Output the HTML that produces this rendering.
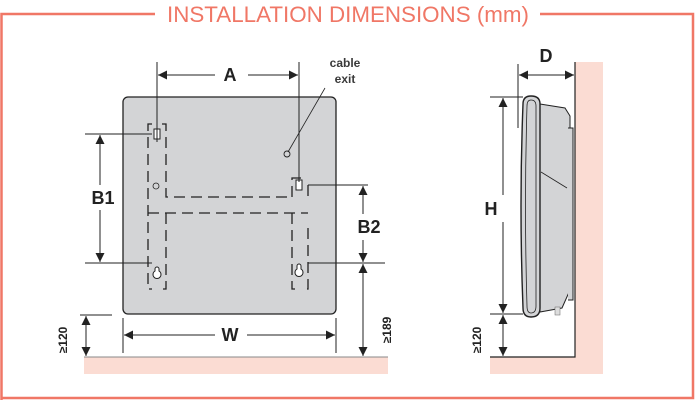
<!DOCTYPE html>
<html><head><meta charset="utf-8"><style>
html,body{margin:0;padding:0;background:#fff;}
svg{display:block;}
text{font-family:"Liberation Sans",sans-serif;font-weight:bold;fill:#222;}
</style></head><body>
<svg width="695" height="400" viewBox="0 0 695 400" xmlns="http://www.w3.org/2000/svg">
<defs>
<marker id="ar" viewBox="0 0 10 10" refX="10" refY="5" markerWidth="9" markerHeight="9" markerUnits="userSpaceOnUse" orient="auto-start-reverse"><path d="M0,0 L10,5 L0,10 z" fill="#222"/></marker>
</defs>
<path d="M1.5,400 V14 H155 M540,14 H693 V398 H1.5" fill="none" stroke="#f07766" stroke-width="2.5"/>
<text x="348" y="22" text-anchor="middle" textLength="362" lengthAdjust="spacingAndGlyphs" style="font-weight:normal;fill:#f07766;font-size:22px;">INSTALLATION DIMENSIONS (mm)</text>

<rect x="84" y="357" width="304" height="17" fill="#fbdcd3"/>
<line x1="84" y1="357" x2="388" y2="357" stroke="#888" stroke-width="1"/>
<rect x="575" y="62" width="28" height="312" fill="#fbdcd3"/>
<rect x="490" y="357" width="113" height="17" fill="#fbdcd3"/>
<path d="M575,62 V357 H490" fill="none" stroke="#222" stroke-width="1.2"/>

<rect x="123" y="97" width="213" height="217" rx="5" fill="#d3d4d6" stroke="#222" stroke-width="1.3"/>
<g fill="none" stroke="#222" stroke-width="1.3" stroke-dasharray="11,6">
<path d="M152,124 H148 V289 H152"/>
<path d="M162,124 H166 V197 H292"/>
<path d="M148,213 H308"/>
<path d="M166,213 V289 H162"/>
<path d="M292,213 V289 H296"/>
<path d="M308,228 V289 H304"/>
<path d="M292,197 V178 H304"/>
<path d="M308,185 V197"/>
</g>
<rect x="154" y="129" width="6" height="10" fill="#fff" stroke="#222" stroke-width="1"/>
<rect x="296" y="180" width="6" height="10" fill="#fff" stroke="#222" stroke-width="1"/>
<circle cx="156" cy="186" r="3" fill="none" stroke="#222" stroke-width="0.8"/>
<g fill="#fff" stroke="#222" stroke-width="1">
<path d="M155,269 a2,2 0 0 1 4,0 v2 a4,4 0 1 1 -4,0 z"/>
<path d="M297,266 a2,2 0 0 1 4,0 v3 a4,4 0 1 1 -4,0 z"/>
</g>
<circle cx="287" cy="154" r="3" fill="none" stroke="#222" stroke-width="0.9"/>
<line x1="325" y1="88" x2="288" y2="152" stroke="#222" stroke-width="0.8"/>

<g stroke="#222" stroke-width="1">
<line x1="157" y1="62" x2="157" y2="142"/>
<line x1="299" y1="62" x2="299" y2="182"/>
<line x1="158" y1="75" x2="215" y2="75" marker-start="url(#ar)"/>
<line x1="248" y1="75" x2="298" y2="75" marker-end="url(#ar)"/>
<line x1="85" y1="134" x2="152" y2="134"/>
<line x1="85" y1="263" x2="152" y2="263"/>
<line x1="100" y1="135" x2="100" y2="185" marker-start="url(#ar)"/>
<line x1="100" y1="210" x2="100" y2="262" marker-end="url(#ar)"/>
<line x1="308" y1="185" x2="368" y2="185"/>
<line x1="308" y1="263" x2="385" y2="263"/>
<line x1="363" y1="186" x2="363" y2="214" marker-start="url(#ar)"/>
<line x1="363" y1="240" x2="363" y2="262" marker-end="url(#ar)"/>
<line x1="363" y1="264" x2="363" y2="356" marker-start="url(#ar)" marker-end="url(#ar)"/>
<line x1="123" y1="318" x2="123" y2="353"/>
<line x1="336" y1="318" x2="336" y2="353"/>
<line x1="124" y1="335" x2="215" y2="335" marker-start="url(#ar)"/>
<line x1="247" y1="335" x2="335" y2="335" marker-end="url(#ar)"/>
<line x1="80" y1="315" x2="112" y2="315"/>
<line x1="86" y1="316" x2="86" y2="356" marker-start="url(#ar)" marker-end="url(#ar)"/>
</g>
<text x="230" y="81" text-anchor="middle" font-size="18">A</text>
<text x="345" y="67" text-anchor="middle" font-size="12" style="fill:#3a3a3a">cable</text>
<text x="345" y="83" text-anchor="middle" font-size="12" style="fill:#3a3a3a">exit</text>
<text x="103" y="204" text-anchor="middle" font-size="18">B1</text>
<text x="369" y="233" text-anchor="middle" font-size="18">B2</text>
<text x="230" y="341" text-anchor="middle" font-size="18">W</text>
<text transform="translate(391,330) rotate(-90)" text-anchor="middle" font-size="12">≥189</text>
<text transform="translate(67,340) rotate(-90)" text-anchor="middle" font-size="12">≥120</text>

<path d="M540,104 L565,108 L570,116 V290 L562,308 L540,312 z" fill="#d3d4d6" stroke="#222" stroke-width="1"/>
<path d="M568,128 H573 V300 H568" fill="#d3d4d6" stroke="#222" stroke-width="1"/>
<path d="M541,172 L567,188" stroke="#222" stroke-width="0.8"/>
<path d="M531,96 Q540,96 540,104 V308 Q540,317 531,317 Q523,317 523,308 Q519,206 523,104 Q523,96 531,96 z" fill="#d3d4d6" stroke="#222" stroke-width="1.4"/>
<path d="M531,100 Q536,100 536,106 V306 Q536,313 531,313 Q527,313 527,306 Q524,206 527,106 Q527,100 531,100 z" fill="none" stroke="#222" stroke-width="0.8"/>
<rect x="555" y="307" width="5" height="8" fill="#ddd" stroke="#666" stroke-width="0.5"/>
<g stroke="#222" stroke-width="1">
<line x1="518" y1="64" x2="518" y2="128"/>
<line x1="519" y1="75" x2="574" y2="75" marker-start="url(#ar)" marker-end="url(#ar)"/>
<line x1="490" y1="97" x2="523" y2="97"/>
<line x1="490" y1="314" x2="523" y2="314"/>
<line x1="503" y1="98" x2="503" y2="195" marker-start="url(#ar)"/>
<line x1="503" y1="222" x2="503" y2="313" marker-end="url(#ar)"/>
<line x1="503" y1="315" x2="503" y2="356" marker-start="url(#ar)" marker-end="url(#ar)"/>
</g>
<text x="546" y="62" text-anchor="middle" font-size="18">D</text>
<text x="491" y="215" text-anchor="middle" font-size="18">H</text>
<text transform="translate(481,340) rotate(-90)" text-anchor="middle" font-size="12">≥120</text>
</svg>
</body></html>
